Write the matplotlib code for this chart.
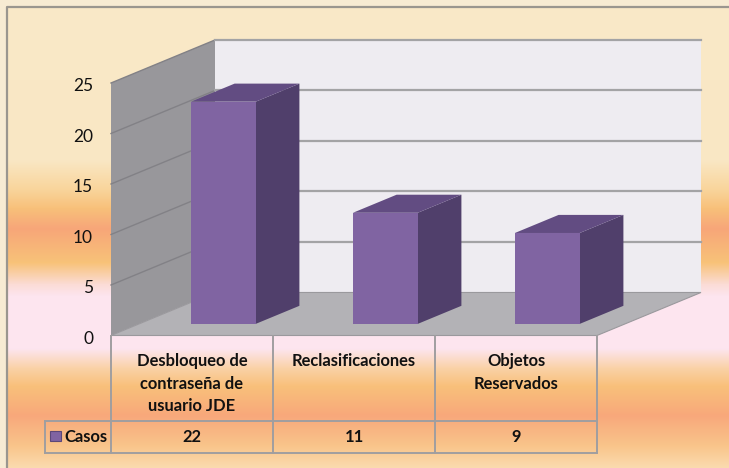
import matplotlib
matplotlib.use("Agg")
import matplotlib.pyplot as plt
import numpy as np
from matplotlib.colors import to_rgb
from matplotlib.patches import Polygon, Rectangle

plt.rcParams['font.family'] = ['Lato', 'DejaVu Sans']

# data
categories = ['Desbloqueo de\ncontraseña de\nusuario JDE', 'Reclasificaciones', 'Objetos\nReservados']
values = [22, 11, 9]
series_name = 'Casos'
yticks = [0, 5, 10, 15, 20, 25]

# oblique 3d look: depth 1 moves right / up
OX, OY = 0.642, 4.26
bar_w, d0, d1 = 0.40, 0.27, 0.69
ymax = 25


def proj(x, y, d):
    return (x + d * OX, y + d * OY)


def face(pts, color, z, ec='none'):
    ax.add_patch(Polygon([proj(*p) for p in pts], closed=True, facecolor=color,
                         edgecolor=ec, lw=0.8, zorder=z))


fig = plt.figure(figsize=(7.29, 4.68), dpi=100)

# background gradient
bg = fig.add_axes([0, 0, 1, 1])
stops = [(0, '#fae9c8'), (160, '#fae7c4'), (190, '#f9d49a'), (208, '#f8c07a'),
         (228, '#f8a679'), (262, '#f8c278'), (284, '#fbdcd6'), (296, '#fde5f0'),
         (348, '#fde5f0'), (368, '#fad2a6'), (386, '#f9c07a'), (415, '#f8a87b'),
         (445, '#f9c48a'), (468, '#fbdcb0')]
rows = np.arange(468)
sy = [s[0] for s in stops]
cols = np.array([to_rgb(s[1]) for s in stops])
grad = np.stack([np.interp(rows, sy, cols[:, k]) for k in range(3)], axis=1)
img = np.repeat(grad[:, None, :], 729, axis=1)
img[:6, :, :] = to_rgb('#f8ecd4')
img[:, :6, :] = to_rgb('#f8ecd4')
bg.imshow(img, aspect='auto', extent=(0, 1, 0, 1), origin='upper')
bg.plot([6.5 / 729, 6.5 / 729, 1], [0, 1 - 6.5 / 468, 1 - 6.5 / 468], color='#9a968f', lw=1.6)
bg.set_xlim(0, 1)
bg.set_ylim(0, 1)
bg.axis('off')

ax = fig.add_axes([0, 0, 1, 1])
ax.patch.set_alpha(0)
ax.set_xlim(-111 / 162, (729 - 111) / 162)
ax.set_ylim((335.5 - 468) / 10.1, 335.5 / 10.1)
ax.axis('off')

n = len(values)
# walls and floor
face([(0, 0, 0), (0, ymax, 0), (0, ymax, 1), (0, 0, 1)], '#98979b', 1)
face([(0, 0, 1), (n, 0, 1), (n, ymax, 1), (0, ymax, 1)], '#eeecf1', 1)
face([(0, 0, 0), (n, 0, 0), (n, 0, 1), (0, 0, 1)], '#b3b2b6', 2, ec='#9a999d')

for v in yticks[1:]:
    xs, ys = zip(proj(0, v, 0), proj(0, v, 1))
    ax.plot(xs, ys, color='#828186', lw=1.0, zorder=2)
    xs, ys = zip(proj(0, v, 1), proj(n, v, 1))
    ax.plot(xs, ys, color='#a3a3a5', lw=1.6, zorder=2)
    ax.text(-0.111, v - 0.3, str(v), ha='right', va='center', fontsize=12.5, color='#111111')
ax.text(-0.111, -0.3, '0', ha='right', va='center', fontsize=12.5, color='#111111')

# bars
for i, v in enumerate(values):
    x0 = i + 0.32
    x1 = x0 + bar_w
    face([(x1, 0, d0), (x1, 0, d1), (x1, v, d1), (x1, v, d0)], '#503f6b', 3)
    face([(x0, v, d0), (x1, v, d0), (x1, v, d1), (x0, v, d1)], '#624c82', 3)
    face([(x0, 0, d0), (x1, 0, d0), (x1, v, d0), (x0, v, d0)], '#8064a2', 4)

# data table
hdr_bot, row_bot, left = -8.47, -11.63, -66 / 162
tc = '#a09ea0'
for k in range(n + 1):
    ax.plot([k, k], [0, row_bot], color=tc, lw=1.4, zorder=2)
ax.plot([left, n], [hdr_bot, hdr_bot], color=tc, lw=1.4)
ax.plot([left, n], [row_bot, row_bot], color=tc, lw=1.4)
ax.plot([left, left], [hdr_bot, row_bot], color=tc, lw=1.4)
for i, (c, v) in enumerate(zip(categories, values)):
    ax.text(i + 0.5, -1.75, c, ha='center', va='top', fontsize=11.9, fontweight='bold',
            linespacing=1.5, color='#111111')
    ax.text(i + 0.5, (hdr_bot + row_bot) / 2, str(v), ha='center', va='center',
            fontsize=11.9, fontweight='bold', color='#111111')
ax.add_patch(Rectangle((-0.377, -10.45), 0.068, 1.0, facecolor='#8064a2',
                       edgecolor='#5c4878', lw=0.8))
ax.text(-0.29, (hdr_bot + row_bot) / 2, series_name, ha='left', va='center',
        fontsize=11.9, fontweight='bold', color='#111111')

fig.savefig('out.png', dpi=100)
